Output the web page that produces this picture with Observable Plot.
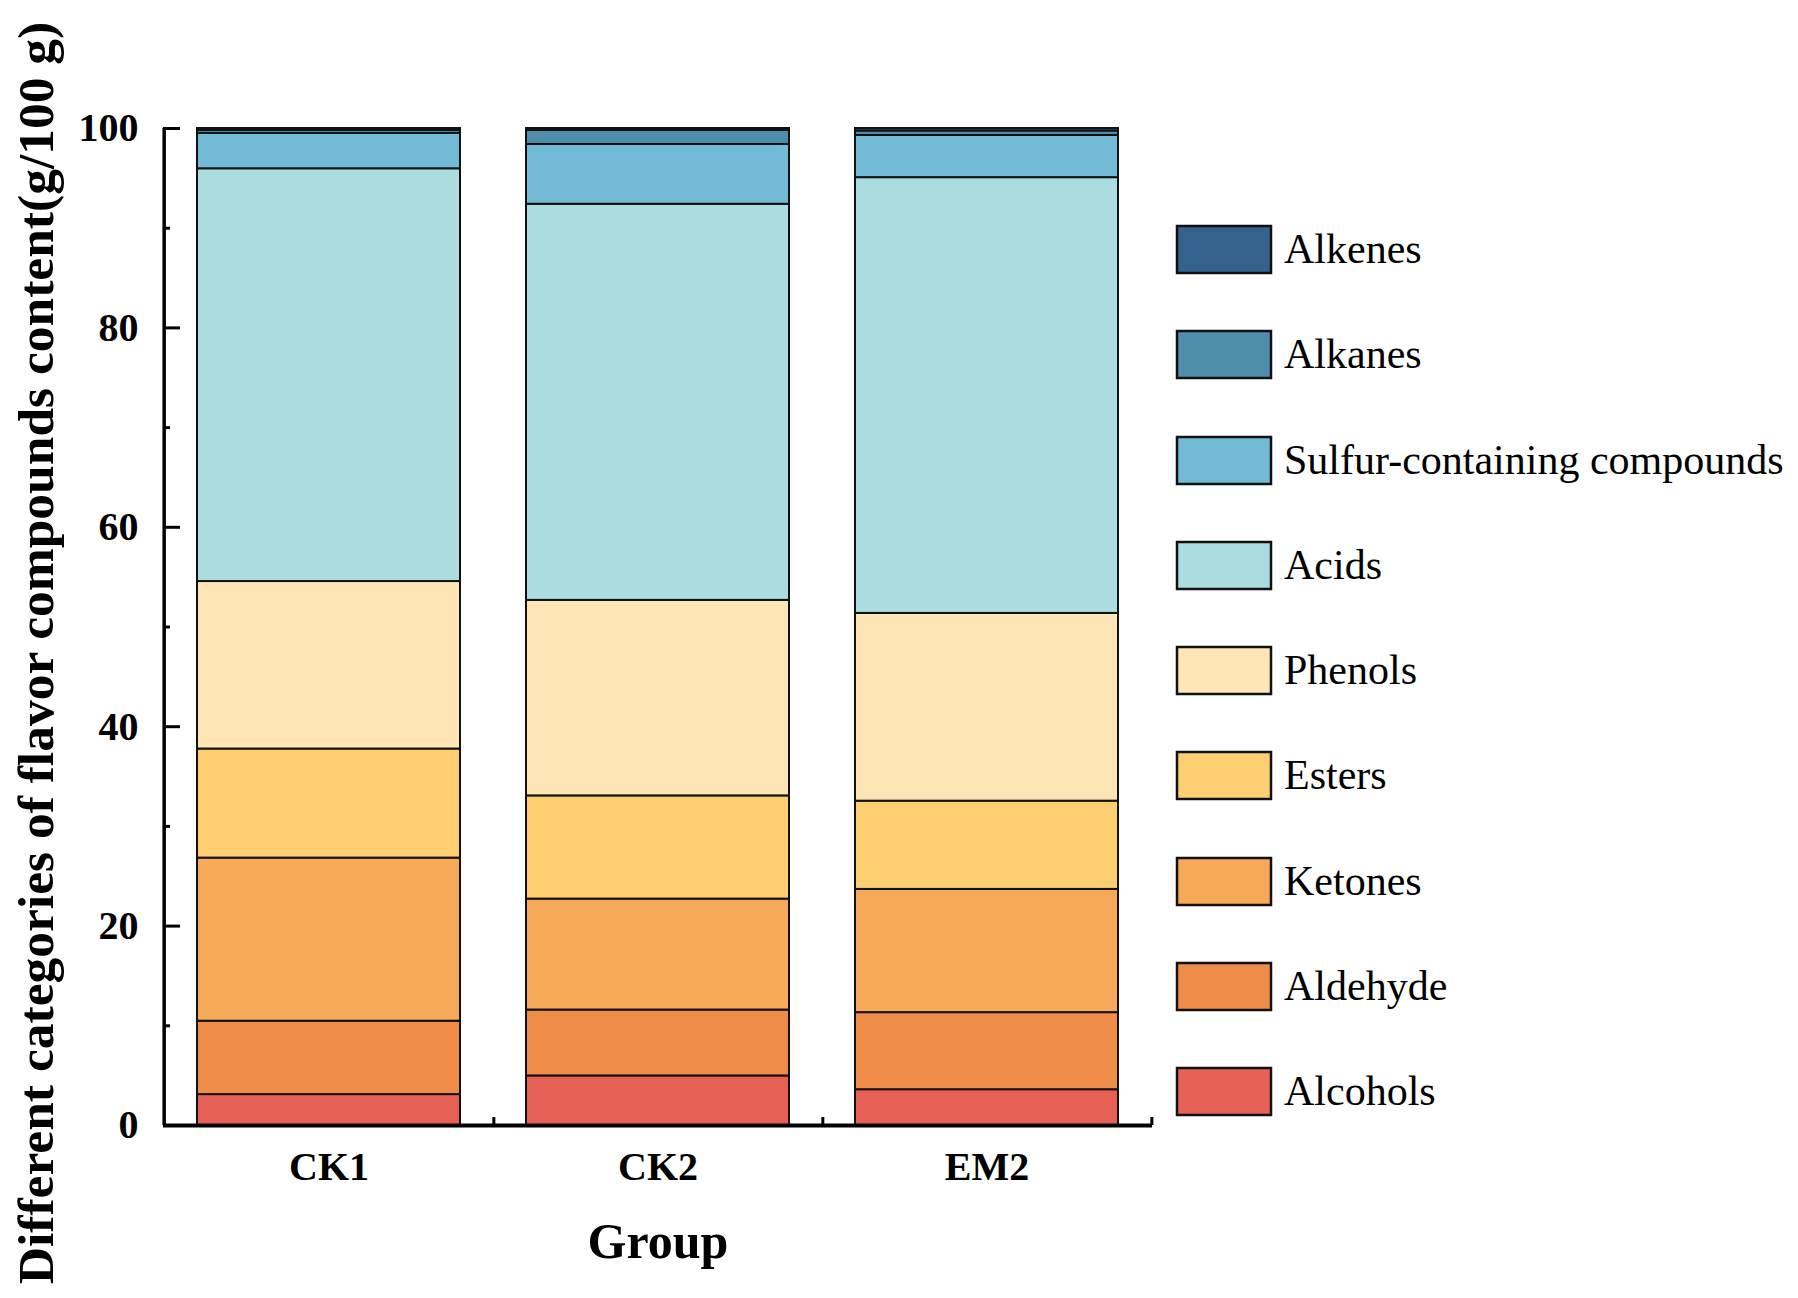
<!DOCTYPE html>
<html><head><meta charset="utf-8">
<script src="https://cdn.jsdelivr.net/npm/d3@7"></script>
<script src="https://cdn.jsdelivr.net/npm/@observablehq/plot@0.6"></script>
<style>
body{margin:0;background:#fff;}
#wrap{position:relative;width:1798px;height:1298px;background:#fff;}
#chart{position:absolute;left:0;top:0;}
#legend{position:absolute;left:1177px;top:226px;}
.lg-swatches{font-family:"Liberation Serif","Times New Roman",serif !important;font-size:42px !important;display:flex !important;flex-direction:column !important;align-items:flex-start !important;margin:0 !important;color:#000 !important;}
.lg-swatch{display:flex !important;align-items:center !important;height:47px !important;line-height:47px !important;margin:0 0 58.3px 0 !important;white-space:nowrap;}
.lg-swatch > svg{margin-right:13px !important;overflow:visible !important;}
.lg-swatch > svg rect{stroke:#111;stroke-width:2.5px;}
</style></head>
<body>
<div id="wrap"><div id="chart"></div><div id="legend"></div></div>
<script>
const groups = ["CK1", "CK2", "EM2"];
const series = ["Alcohols", "Aldehyde", "Ketones", "Esters", "Phenols", "Acids", "Sulfur-containing compounds", "Alkanes", "Alkenes"];
const alcohols = [3.10, 4.97, 3.59];
const aldehyde = [7.36, 6.61, 7.73];
const ketones  = [16.36, 11.13, 12.36];
const esters   = [10.94, 10.35, 8.85];
const phenols  = [16.80, 19.61, 18.83];
const acids    = [41.40, 39.73, 43.71];
const sulfur   = [3.54, 6.00, 4.23];
const alkanes  = [0.30, 1.40, 0.45];
const alkenes  = [0.20, 0.20, 0.25];
const colors = ["#e66055", "#ef8c47", "#f6aa59", "#fecf70", "#fde5b6", "#abdde0", "#72bad5", "#4e8eab", "#34618e"];
const yTicks = [0, 20, 40, 60, 80, 100];
const yMinor = [10, 30, 50, 70, 90];
const yTitle = "Different categories of flavor compounds content(g/100 g)";
const xTitle = "Group";

const seriesValues = [alcohols, aldehyde, ketones, esters, phenols, acids, sulfur, alkanes, alkenes];
const data = [];
series.forEach((s, i) => groups.forEach((g, j) => data.push({group: g, series: s, value: seriesValues[i][j]})));

const W = 1798, H = 1298, mL = 163, mR = 646, mT = 128, mB = 173;
const step = (W - mL - mR) / (groups.length - 0.2 + 0.2);

const chart = Plot.plot({
  width: W, height: H,
  marginLeft: mL, marginRight: mR, marginTop: mT, marginBottom: mB,
  x: {domain: groups, paddingInner: 0.2, paddingOuter: 0.1, label: null},
  y: {domain: [0, 100], label: null},
  color: {domain: series, range: colors},
  style: {fontFamily: "'Liberation Serif','Times New Roman',serif", fontSize: "40px", fontWeight: "bold", color: "#000", background: "#fff", overflow: "visible"},
  marks: [
    Plot.barY(data, {x: "group", y: "value", fill: "series", stroke: "#111", strokeWidth: 2}),
    Plot.axisY({ticks: yTicks, tickSize: -17, tickPadding: 42, strokeWidth: 3, label: null, fill: "#000"}),
    Plot.axisY({ticks: yMinor, tickSize: -7, tickFormat: () => "", strokeWidth: 3, label: null}),
    Plot.axisX({tickSize: 0, tickPadding: 26, label: null, fill: "#000"}),
    Plot.ruleY([0], {stroke: "#000", strokeWidth: 4}),
    Plot.ruleX([groups[0]], {x: d => d, dx: -step / 2, y1: 0, y2: 100, stroke: "#000", strokeWidth: 3.5}),
    Plot.ruleX(groups, {x: d => d, y1: 0, y2: 0.8, dx: step / 2, stroke: "#000", strokeWidth: 3}),
    Plot.text([yTitle], {text: d => d, frameAnchor: "left", textAnchor: "middle", rotate: -90, dx: -127, dy: 26, fontSize: 51.5, fontWeight: "bold", fill: "#000", lineAnchor: "middle"}),
    Plot.text([xTitle], {text: d => d, frameAnchor: "bottom", textAnchor: "middle", dy: 116, fontSize: 50, fontWeight: "bold", fill: "#000", lineAnchor: "middle"})
  ]
});
document.getElementById("chart").appendChild(chart);

const legend = Plot.legend({
  color: {domain: series.slice().reverse(), range: colors.slice().reverse(), type: "categorical"},
  className: "lg", swatchWidth: 94, swatchHeight: 47
});
document.getElementById("legend").appendChild(legend);
</script>
</body></html>
